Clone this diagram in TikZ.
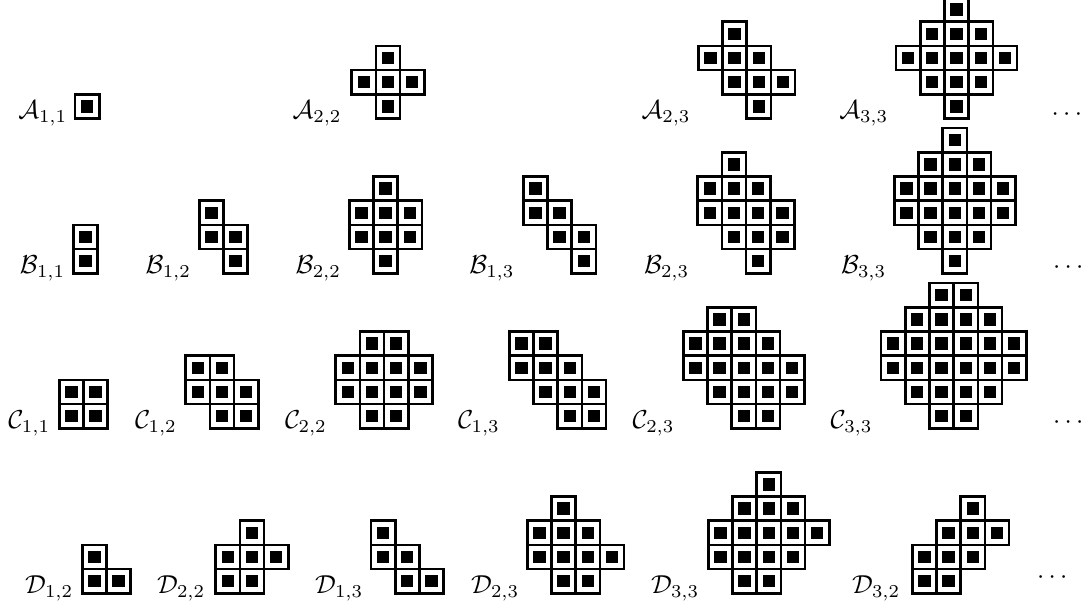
\documentclass[tikz,border=0pt]{standalone}
\usepackage{amsmath}
\begin{document}
\begin{tikzpicture}[x=0.385pt,y=-0.385pt,
  cellframe/.style={draw=black,line width=1pt,line join=miter},
  lbl/.style={anchor=base west,inner sep=0pt,outer sep=0pt}]
\useasboundingbox (0,0) rectangle (1089,607);
\def\cs{24.2}
\def\ih{6.15}
% #1 left, #2 bottom, #3 rows, #4 list col/row
\newcommand\polyomino[4]{%
  \foreach \c/\r in {#4}{%
    \draw[cellframe] ({#1+\c*\cs},{#2-(#3-\r)*\cs}) rectangle ++(\cs,\cs);
    \fill[black] ({#1+(\c+0.5)*\cs-\ih},{#2-(#3-\r-0.5)*\cs-\ih}) rectangle ++(2*\ih,2*\ih);
  }}
% Row A
\node[lbl] (lA11) at (18.3,118.5) {$\mathcal{A}_{1,1}$};
\polyomino{75}{118.5}{1}{0/0}
\node[lbl] (lA22) at (292.7,118.5) {$\mathcal{A}_{2,2}$};
\polyomino{351.7}{118.5}{3}{1/0,0/1,1/1,2/1,1/2}
\node[lbl] (lA23) at (641.7,118.5) {$\mathcal{A}_{2,3}$};
\polyomino{698.3}{118.5}{4}{1/0,0/1,1/1,2/1,1/2,2/2,3/2,2/3}
\node[lbl] (lA33) at (839.3,118.5) {$\mathcal{A}_{3,3}$};
\polyomino{896}{118.5}{5}{2/0,1/1,2/1,3/1,0/2,1/2,2/2,3/2,4/2,1/3,2/3,3/3,2/4}
\node[lbl] (dA) at (1051.7,120.5) {$\cdots$};
% Row B
\node[lbl] (lB11) at (20,273.3) {$\mathcal{B}_{1,1}$};
\polyomino{73.3}{273.3}{2}{0/0,0/1}
\node[lbl] (lB12) at (145.7,273.3) {$\mathcal{B}_{1,2}$};
\polyomino{199.3}{273.3}{3}{0/0,0/1,1/1,1/2}
\node[lbl] (lB22) at (295.7,273.3) {$\mathcal{B}_{2,2}$};
\polyomino{349.3}{273.3}{4}{1/0,0/1,1/1,2/1,0/2,1/2,2/2,1/3}
\node[lbl] (lB13) at (469.3,273.3) {$\mathcal{B}_{1,3}$};
\polyomino{523.3}{273.3}{4}{0/0,0/1,1/1,1/2,2/2,2/3}
\node[lbl] (lB23) at (644,273.3) {$\mathcal{B}_{2,3}$};
\polyomino{697.7}{273.3}{5}{1/0,0/1,1/1,2/1,0/2,1/2,2/2,3/2,1/3,2/3,3/3,2/4}
\node[lbl] (lB33) at (841,273.3) {$\mathcal{B}_{3,3}$};
\polyomino{894.3}{273.3}{6}{2/0,1/1,2/1,3/1,0/2,1/2,2/2,3/2,4/2,0/3,1/3,2/3,3/3,4/3,1/4,2/4,3/4,2/5}
\node[lbl] (dB) at (1053,273.5) {$\cdots$};
% Row C
\node[lbl] (lC11) at (8.3,428.3) {$\mathcal{C}_{1,1}$};
\polyomino{59.3}{428.3}{2}{0/0,1/0,0/1,1/1}
\node[lbl] (lC12) at (135,428.3) {$\mathcal{C}_{1,2}$};
\polyomino{185.7}{428.3}{3}{0/0,1/0,0/1,1/1,2/1,1/2,2/2}
\node[lbl] (lC22) at (285,428.3) {$\mathcal{C}_{2,2}$};
\polyomino{335.7}{428.3}{4}{1/0,2/0,0/1,1/1,2/1,3/1,0/2,1/2,2/2,3/2,1/3,2/3}
\node[lbl] (lC13) at (458,428.3) {$\mathcal{C}_{1,3}$};
\polyomino{509.3}{428.3}{4}{0/0,1/0,0/1,1/1,2/1,1/2,2/2,3/2,2/3,3/3}
\node[lbl] (lC23) at (632.7,428.3) {$\mathcal{C}_{2,3}$};
\polyomino{683.3}{428.3}{5}{1/0,2/0,0/1,1/1,2/1,3/1,0/2,1/2,2/2,3/2,4/2,1/3,2/3,3/3,4/3,2/4,3/4}
\node[lbl] (lC33) at (830.7,428.3) {$\mathcal{C}_{3,3}$};
\polyomino{881}{428.3}{6}{2/0,3/0,1/1,2/1,3/1,4/1,0/2,1/2,2/2,3/2,4/2,5/2,0/3,1/3,2/3,3/3,4/3,5/3,1/4,2/4,3/4,4/4,2/5,3/5}
\node[lbl] (dC) at (1053,428.5) {$\cdots$};
% Row D
\node[lbl] (lD12) at (25,593.3) {$\mathcal{D}_{1,2}$};
\polyomino{82.3}{593.3}{2}{0/0,0/1,1/1}
\node[lbl] (lD22) at (157,593.3) {$\mathcal{D}_{2,2}$};
\polyomino{215.7}{593.3}{3}{1/0,0/1,1/1,2/1,0/2,1/2}
\node[lbl] (lD13) at (315,593.3) {$\mathcal{D}_{1,3}$};
\polyomino{371}{593.3}{3}{0/0,0/1,1/1,1/2,2/2}
\node[lbl] (lD23) at (471,593.3) {$\mathcal{D}_{2,3}$};
\polyomino{527.3}{593.3}{4}{1/0,0/1,1/1,2/1,0/2,1/2,2/2,3/2,1/3,2/3}
\node[lbl] (lD33) at (651,593.3) {$\mathcal{D}_{3,3}$};
\polyomino{708.3}{593.3}{5}{2/0,1/1,2/1,3/1,0/2,1/2,2/2,3/2,4/2,0/3,1/3,2/3,3/3,1/4,2/4}
\node[lbl] (lD32) at (852,593.3) {$\mathcal{D}_{3,2}$};
\polyomino{912.3}{593.3}{4}{2/0,1/1,2/1,3/1,0/2,1/2,2/2,0/3,1/3}
\node[lbl] (dD) at (1037,583.5) {$\cdots$};
\end{tikzpicture}
\end{document}
